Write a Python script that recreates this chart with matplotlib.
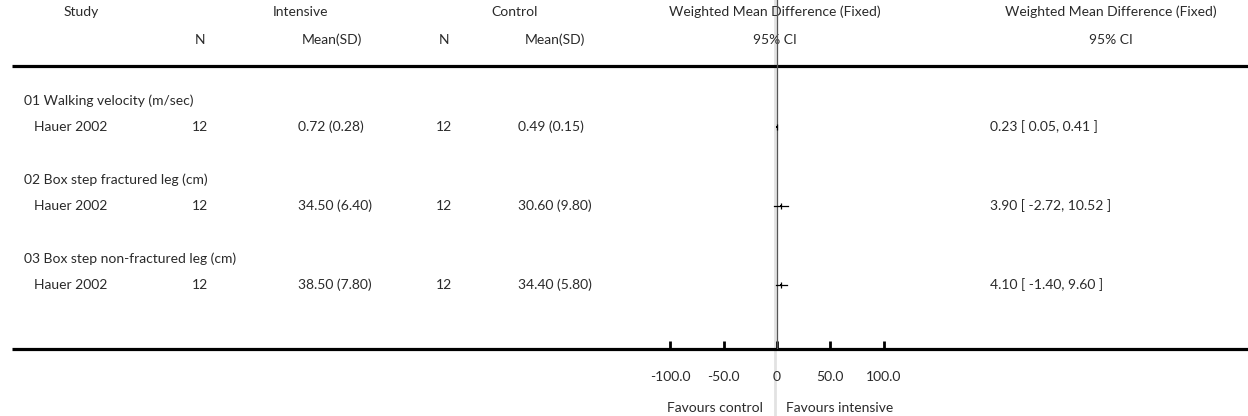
import matplotlib
matplotlib.use("Agg")
import matplotlib.pyplot as plt

plt.rcParams["font.family"] = ["Lato", "DejaVu Sans"]

# data
groups = ["01 Walking velocity (m/sec)", "02 Box step fractured leg (cm)", "03 Box step non-fractured leg (cm)"]
studies = ["Hauer 2002", "Hauer 2002", "Hauer 2002"]
n_int = [12, 12, 12]
mean_int = ["0.72 (0.28)", "34.50 (6.40)", "38.50 (7.80)"]
n_ctl = [12, 12, 12]
mean_ctl = ["0.49 (0.15)", "30.60 (9.80)", "34.40 (5.80)"]
wmd = [0.23, 3.90, 4.10]
ci_low = [0.05, -2.72, -1.40]
ci_high = [0.41, 10.52, 9.60]
tick_vals = [-100, -50, 0, 50, 100]
tick_labels = ["-100.0", "-50.0", "0", "50.0", "100.0"]

W, H = 1248, 416
fig = plt.figure(figsize=(W / 100, H / 100), dpi=100)

# layout axes in pixel units
lay = fig.add_axes([0, 0, 1, 1])
lay.set_xlim(0, W)
lay.set_ylim(H, 0)
lay.axis("off")

fs = 10
txt = dict(fontsize=fs, color="#2a2a2a", va="center")

# headers
lay.text(81, 12, "Study", ha="center", **txt)
lay.text(301, 12, "Intensive", ha="center", **txt)
lay.text(515, 12, "Control", ha="center", **txt)
lay.text(775, 12, "Weighted Mean Difference (Fixed)", ha="center", **txt)
lay.text(1111, 12, "Weighted Mean Difference (Fixed)", ha="center", **txt)
lay.text(200, 40, "N", ha="center", **txt)
lay.text(332, 40, "Mean(SD)", ha="center", **txt)
lay.text(444, 40, "N", ha="center", **txt)
lay.text(555, 40, "Mean(SD)", ha="center", **txt)
lay.text(775, 40, "95% CI", ha="center", **txt)
lay.text(1111, 40, "95% CI", ha="center", **txt)

lay.plot([12, W], [66, 66], color="black", lw=2.3, solid_capstyle="butt")
lay.plot([12, W], [349, 349], color="black", lw=2.3, solid_capstyle="butt")
lay.plot([774.5, 774.5], [0, H], color="#e2e2e2", lw=2.0, zorder=0)

group_y = [101, 180, 259]
study_y = [y + 26 for y in group_y]

for i in range(len(groups)):
    lay.text(24, group_y[i], groups[i], ha="left", **txt)
    lay.text(34, study_y[i], studies[i], ha="left", **txt)
    lay.text(200, study_y[i], str(n_int[i]), ha="center", **txt)
    lay.text(298, study_y[i], mean_int[i], ha="left", **txt)
    lay.text(444, study_y[i], str(n_ctl[i]), ha="center", **txt)
    lay.text(518, study_y[i], mean_ctl[i], ha="left", **txt)
    lay.text(990, study_y[i], f"{wmd[i]:.2f} [ {ci_low[i]:.2f}, {ci_high[i]:.2f} ]", ha="left", **txt)

lay.text(715, 408, "Favours control", ha="center", **txt)
lay.text(840, 408, "Favours intensive", ha="center", **txt)

# forest axes
x0, x1 = 640, 914
px_per_unit = 1.068
zero_px = 777
ax = fig.add_axes([x0 / W, (H - 349) / H, (x1 - x0) / W, 349 / H])
ax.set_xlim((x0 - zero_px) / px_per_unit, (x1 - zero_px) / px_per_unit)
ax.set_ylim(349, 0)
ax.patch.set_visible(False)
for s in ["top", "left", "right", "bottom"]:
    ax.spines[s].set_visible(False)
ax.set_yticks([])
ax.set_xticks(tick_vals)
ax.set_xticklabels(tick_labels)
ax.tick_params(axis="x", direction="in", length=6, width=2, pad=16,
               labelsize=fs, labelcolor="#2a2a2a", color="black")
ax.axvline(0, color="#555555", lw=0.9)

for i in range(len(wmd)):
    ax.plot([ci_low[i], ci_high[i]], [study_y[i], study_y[i]], color="black", lw=0.9)
    ax.plot(wmd[i], study_y[i], marker="s", ms=1.6, color="black", mew=0)
    ax.plot(wmd[i], study_y[i], marker="|", ms=5, color="black", mew=0.9)

fig.savefig("out.png", dpi=100)
